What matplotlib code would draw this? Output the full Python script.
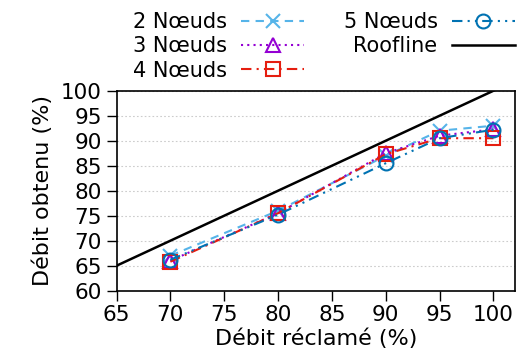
import numpy as np
import matplotlib.pyplot as plt

# data
debit_reclame = [70, 80, 90, 95, 100]
noeuds_2 = [67.0, 76.0, 87.0, 92.0, 93.0]
noeuds_3 = [66.0, 75.5, 87.5, 91.0, 92.3]
noeuds_4 = [65.8, 75.5, 87.3, 90.5, 90.5]
noeuds_5 = [66.2, 75.2, 85.5, 90.5, 92.2]
roofline_x = [65, 100]
roofline_y = [65, 100]

x_ticks = [65, 70, 75, 80, 85, 90, 95, 100]
y_ticks = [60, 65, 70, 75, 80, 85, 90, 95, 100]

LABEL_FS = 16
TICK_FS = 15.5
LEG_FS = 15
LW = 1.5
MS = 10

fig = plt.figure(figsize=(5.25, 3.6), dpi=100)
ax = fig.add_axes([0.222, 0.1925, 0.759, 0.5555])

ax.plot(debit_reclame, noeuds_2, color="#56b4e9", lw=LW, dashes=(4, 3),
        marker="x", ms=MS, mew=1.5, label="2 Nœuds")
ax.plot(debit_reclame, noeuds_3, color="#9400d3", lw=LW, dashes=(1, 2),
        marker="^", ms=MS, mew=1.5, mfc="none", label="3 Nœuds")
ax.plot(debit_reclame, noeuds_4, color="#e51e10", lw=LW, dashes=(5, 2.5, 1, 2.5),
        marker="s", ms=MS, mew=1.5, mfc="none", label="4 Nœuds")
ax.plot(debit_reclame, noeuds_5, color="#0072b2", lw=LW, dashes=(5, 2.5, 1, 2.5, 1, 2.5),
        marker="o", ms=MS, mew=1.5, mfc="none", label="5 Nœuds")
ax.plot(roofline_x, roofline_y, color="black", lw=1.8, label="Roofline")

ax.set_xlim(65, 102)
ax.set_ylim(60, 100)
ax.set_xticks(x_ticks)
ax.set_yticks(y_ticks)
ax.tick_params(axis="both", labelsize=TICK_FS, direction="out", length=7, width=1)
ax.set_axisbelow(True)
ax.yaxis.grid(True, linestyle=(0, (1.5, 2)), color="#cccccc", lw=0.8)
for s in ax.spines.values():
    s.set_linewidth(1.2)

ax.set_xlabel("Débit réclamé (%)", fontsize=LABEL_FS, labelpad=2)
ax.set_ylabel("Débit obtenu (%)", fontsize=LABEL_FS, labelpad=6)

fig.legend(loc="upper right", bbox_to_anchor=(1.0, 0.995), ncol=2,
           markerfirst=False, frameon=False, fontsize=LEG_FS,
           handlelength=3.0, handletextpad=0.7, columnspacing=1.9,
           labelspacing=0.2, borderaxespad=0.2, borderpad=0.3)

fig.savefig("out.png", dpi=100)
